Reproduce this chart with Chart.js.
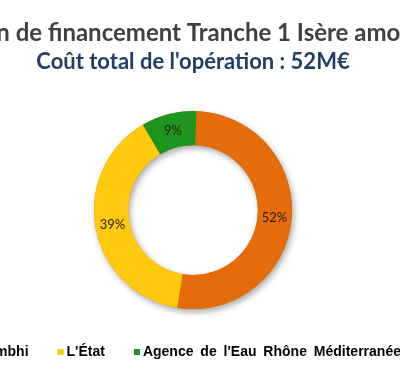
<!DOCTYPE html>
<html><head><meta charset="utf-8">
<script src="https://cdn.jsdelivr.net/npm/chart.js@4.4.1/dist/chart.umd.min.js"></script>
<style>
html,body{margin:0;padding:0;background:#fff;overflow:hidden;width:400px;height:383px;}
#wrap{position:absolute;left:-60px;top:0;width:506px;height:383px;}
</style></head><body>
<div id="wrap"><canvas id="c"></canvas></div>
<script>
const titleText = "Plan de financement Tranche 1 Isère amont";
const subtitleText = "Coût total de l'opération : 52M€";
const categories = ["Symbhi", "L'État", "Agence de l'Eau Rhône Méditerranée"];
const shares = [52, 39, 9];
const colors = ["#E46C0A", "#FFC90E", "#1E961E"];

// small square legend markers, shifted right inside a transparent canvas
function marker(color) {
  const c = document.createElement('canvas');
  c.width = 20; c.height = 6;
  const g = c.getContext('2d');
  g.fillStyle = color;
  g.fillRect(11, 0, 6, 6);
  return c;
}
const markers = colors.map(marker);

// wider word spacing for the legend text only
const legendSpacing = {
  id: 'legendSpacing',
  afterInit(chart) {
    const lg = chart.legend;
    if (!lg) return;
    const wrap = (name) => {
      const orig = lg[name];
      lg[name] = function (...args) {
        const ctx = chart.ctx;
        const prev = ctx.wordSpacing;
        ctx.wordSpacing = '3px';
        const r = orig.apply(this, args);
        ctx.wordSpacing = prev || '0px';
        return r;
      };
    };
    wrap('fit');
    wrap('draw');
  }
};

const ringShadow = {
  id: 'ringShadow',
  beforeDatasetsDraw(chart) {
    const arcs = chart.getDatasetMeta(0).data;
    if (!arcs.length) return;
    const a = arcs[0];
    const ctx = chart.ctx;
    ctx.save();
    ctx.shadowColor = 'rgba(0,0,0,0.35)';
    ctx.shadowBlur = 6;
    ctx.shadowOffsetX = 2;
    ctx.shadowOffsetY = 3;
    ctx.beginPath();
    ctx.arc(a.x, a.y, a.outerRadius, 0, Math.PI * 2);
    ctx.arc(a.x, a.y, a.innerRadius, 0, Math.PI * 2, true);
    ctx.fillStyle = colors[0];
    ctx.fill();
    ctx.restore();
  }
};

const pctLabels = {
  id: 'pctLabels',
  afterDatasetsDraw(chart) {
    const ctx = chart.ctx;
    const meta = chart.getDatasetMeta(0);
    ctx.save();
    ctx.font = '13px Lato';
    ctx.fillStyle = '#2e2218';
    ctx.textAlign = 'center';
    ctx.textBaseline = 'middle';
    meta.data.forEach((arc, i) => {
      const p = arc.tooltipPosition();
      ctx.fillText(shares[i] + '%', p.x, p.y);
    });
    ctx.restore();
  }
};

new Chart(document.getElementById('c'), {
  type: 'doughnut',
  data: {
    labels: categories,
    datasets: [{
      data: shares,
      backgroundColor: colors,
      borderWidth: 0
    }]
  },
  options: {
    responsive: true,
    maintainAspectRatio: false,
    animation: false,
    rotation: 2,
    radius: 99,
    cutout: 72,
    layout: { padding: { bottom: 14 } },
    plugins: {
      title: {
        display: true,
        text: titleText,
        color: '#404040',
        font: { family: 'Lato', size: 24, weight: 'bold' },
        padding: { top: 19, bottom: 1 }
      },
      subtitle: {
        display: true,
        text: subtitleText,
        color: '#1F3F66',
        font: { family: 'Lato', size: 22, weight: 'bold' },
        padding: { top: 0, bottom: 25 }
      },
      legend: {
        position: 'bottom',
        align: 'start',
        labels: {
          usePointStyle: true,
          pointStyleWidth: 6,
          boxHeight: 6,
          padding: 25,
          color: '#000',
          font: { family: 'Liberation Sans', size: 14, weight: 'bold' },
          generateLabels(chart) {
            return categories.map((t, i) => ({
              text: t,
              pointStyle: markers[i],
              fillStyle: colors[i],
              strokeStyle: colors[i],
              lineWidth: 0,
              hidden: false,
              index: i,
              datasetIndex: 0
            }));
          }
        }
      },
      tooltip: { enabled: false }
    }
  },
  plugins: [legendSpacing, ringShadow, pctLabels]
});
</script>
</body></html>
